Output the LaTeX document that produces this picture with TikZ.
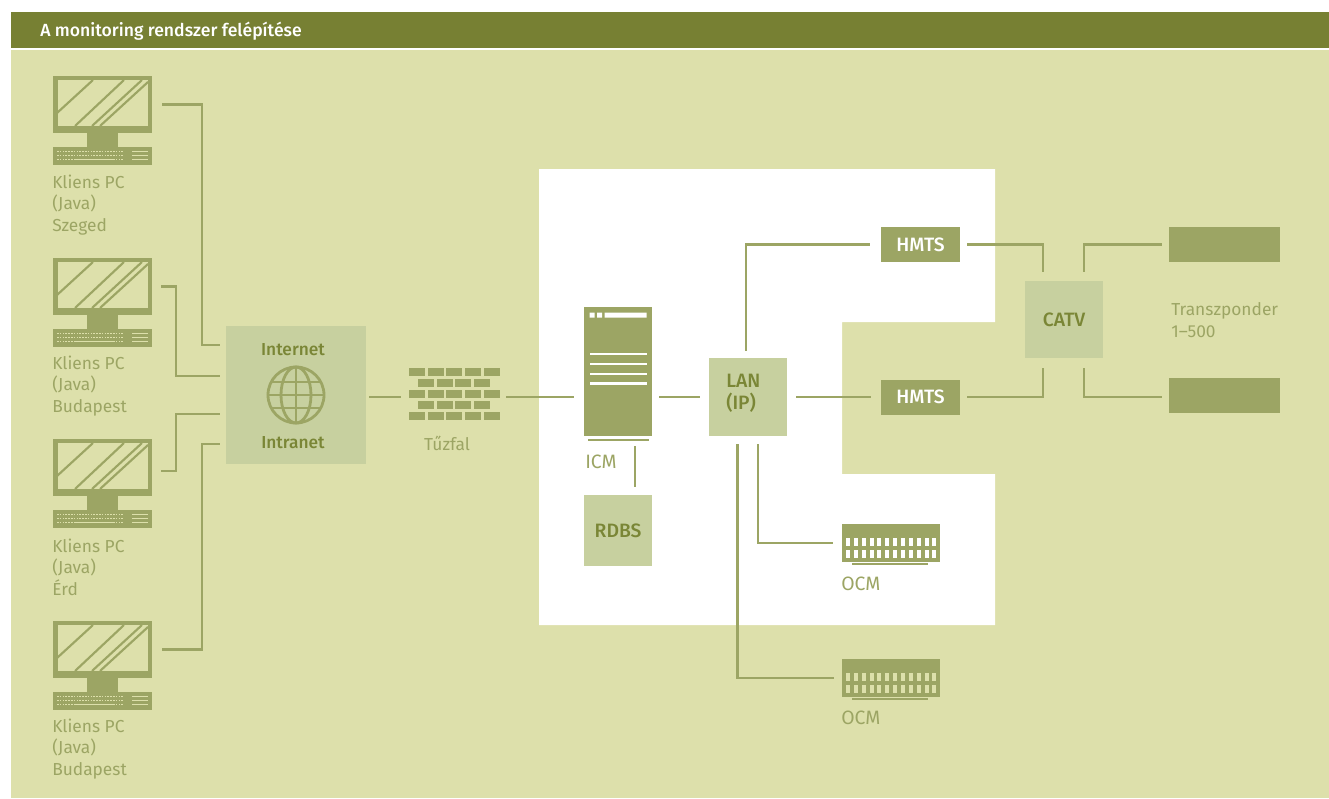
\documentclass[tikz,border=0pt]{standalone}
\usepackage{fontspec}
\setmainfont{Fira Sans}
\newfontfamily\boldface{Fira Sans Medium}
\usepackage{xcolor}
\usetikzlibrary{calc}
\definecolor{barolive}{RGB}{119, 128, 51}
\definecolor{panelolive}{RGB}{221, 224, 171}
\definecolor{lineolive}{RGB}{156, 165, 100}
\definecolor{boxolive}{RGB}{199, 208, 159}
\definecolor{textolive}{RGB}{122, 134, 54}
\tikzset{
    wire/.style={draw=lineolive, line width=2.1pt, line join=miter},
    gaps/.style 2 args={shorten <=#1*0.75pt, shorten >=#2*0.75pt},
    lightbox/.style={rectangle, fill=boxolive, inner sep=0pt, text=textolive, font=\boldface\fontsize{14.5}{17}\selectfont, align=left},
    darkbox/.style={rectangle, fill=lineolive, inner sep=0pt, text=white, font=\boldface\fontsize{14.5}{17}\selectfont},
    thinlabel/.style={anchor=west, inner sep=0pt, text=lineolive, font=\fontsize{13}{16.1}\selectfont, align=left},
    capslabel/.style={thinlabel, font=\fontsize{14.5}{17}\selectfont},
    boldlabel/.style={inner sep=0pt, text=textolive, font=\boldface\fontsize{13}{16}\selectfont},
    brick/.style={fill=lineolive},
    pcicon/.pic={
        \fill[panelolive] (4.5,4) rectangle (95,50);
        \draw[lineolive, line width=1.6pt] (4,37) -- (40,4) (22,50) -- (71,4) (39,50) -- (89,4) (47,50) -- (95,6);
        \fill[lineolive] (34,57) rectangle (65,71);
        \fill[lineolive] (0,71) rectangle (99,89);
        \foreach \y in {75.7,79.7} {
            \draw[panelolive, line width=0.8pt, dash pattern=on 1.2pt off 0.9pt] (4,\y) -- (70,\y);
        }
        \draw[panelolive, line width=0.8pt, dash pattern=on 1.2pt off 0.9pt] (4,83.7) -- (70,83.7);
        \draw[panelolive, line width=0.9pt] (22,83.7) -- (60,83.7);
        \foreach \y in {75.7,79.7,83.7} {
            \draw[panelolive, line width=0.9pt] (79,\y) -- (95,\y);
        }
    },
    ocmicon/.pic={
        \foreach \k in {0,...,11} {
            \fill[#1] (4+\k*7.85,14) rectangle ++(4,8);
            \fill[#1] (4+\k*7.85,26) rectangle ++(4,8);
        }
        \fill[lineolive] (10,39.2) rectangle (86,41);
    }
}

\begin{document}
\begin{tikzpicture}[x=0.75pt, y=-0.75pt]
    \useasboundingbox (0,0) rectangle (1329,799);
    \fill[white] (0,0) rectangle (1329,799);
    \fill[barolive] (11,12) rectangle (1329,48);
    \fill[panelolive] (11,50) rectangle (1329,798);
    \fill[white] (539,169) -- (995,169) -- (995,322) -- (842,322) -- (842,474) -- (995,474) -- (995,625) -- (539,625) -- cycle;
    \node[anchor=west, inner sep=0pt, text=white, font=\boldface\fontsize{13.2}{15}\selectfont] (title) at (40,31) {A monitoring rendszer felépítése};

    \foreach \i/\y/\ly/\city in {1/76/205/Szeged, 2/258/386/Budapest, 3/439/567/Érd, 4/621/749/Budapest} {
        \node[rectangle, fill=lineolive, inner sep=0pt, minimum width=74.25pt, minimum height=42.75pt] (pc\i) at (102.5,\y+28.5) {};
        \pic at (53,\y) {pcicon};
        \node[thinlabel] (pclabel\i) at (52,\ly) {Kliens PC\\(Java)\\\city};
    }

    \node[lightbox, minimum width=105pt, minimum height=103.5pt] (net) at (296,395) {};
    \node[boldlabel] (nettop) at (293,350) {Internet};
    \node[boldlabel] (netbottom) at (293,443) {Intranet};
    \node[circle, draw=lineolive, line width=2.1pt, inner sep=0pt, minimum size=42pt] (globe) at (296,395) {};
    \draw[wire] (globe.north) -- (globe.south) (globe.west) -- (globe.east) (270,382) -- (322,382) (270,408) -- (322,408);
    \draw[wire] (globe) ellipse [x radius=15, y radius=28];

    \node[rectangle, inner sep=0pt, minimum width=68.25pt, minimum height=39pt] (wall) at (454.5,394) {};
    \foreach \y in {368,390,412} {
        \foreach \k in {0,...,4} {
            \fill[brick] (409+\k*18.7,\y) rectangle ++(16,8.3);
        }
    }
    \foreach \y in {379,401} {
        \foreach \k in {0,...,3} {
            \fill[brick] (418+\k*18.7,\y) rectangle ++(16,8.3);
        }
    }
    \node[thinlabel, anchor=center] (walllabel) at (447,443) {Tűzfal};

    \node[darkbox, minimum width=51pt, minimum height=96.75pt] (icm) at (618,371.5) {};
    \fill[white] (589.5,312.5) rectangle ++(5,5) (597,312.5) rectangle ++(5,5) (604.5,312.5) rectangle (646.5,317.5);
    \foreach \y in {354,364,374,383.5} {
        \fill[white] (589.5,\y-1.2) rectangle (646.5,\y+1.2);
    }
    \fill[lineolive] (587.5,438.6) rectangle (649,440.8);
    \node[capslabel] (icmlabel) at (585,462) {ICM};
    \node[lightbox, minimum width=51pt, minimum height=53.25pt] (rdbs) at (618,530.5) {RDBS};

    \node[lightbox, minimum width=58.5pt, minimum height=58.5pt] (lanbox) at (748,397) {};
    \node[anchor=west, inner sep=0pt, text=textolive, font=\boldface\fontsize{14.5}{16.5}\selectfont, align=left] (lantext) at (726,393) {LAN\\(IP)};

    \node[darkbox, minimum width=59.25pt, minimum height=26.25pt] (hmtsa) at (920.5,244.5) {HMTS};
    \node[darkbox, minimum width=59.25pt, minimum height=26.25pt] (hmtsb) at (920.5,397) {HMTS};
    \node[lightbox, minimum width=58.5pt, minimum height=57.75pt] (catv) at (1064,319.5) {CATV};
    \node[darkbox, minimum width=83.25pt, minimum height=26.25pt] (transa) at (1224.5,244.5) {};
    \node[darkbox, minimum width=83.25pt, minimum height=26.25pt] (transb) at (1224.5,395.5) {};
    \node[thinlabel] (translabel) at (1171,320) {Transzponder\\1–500};

    \node[darkbox, minimum width=73.5pt, minimum height=28.5pt] (ocma) at (891,543) {};
    \pic at (842,524) {ocmicon=white};
    \node[capslabel] (ocmlabela) at (841,584) {OCM};
    \node[darkbox, minimum width=73.5pt, minimum height=28.5pt] (ocmb) at (891,678) {};
    \pic at (842,659) {ocmicon=panelolive};
    \node[capslabel] (ocmlabelb) at (841,718) {OCM};

    \draw[wire, gaps={10}{6}] (pc1.east) -| (202,345) -- (net.west |- 202,345);
    \draw[wire, gaps={9}{6}] (pc2.east) -| (176,376) -- (net.west |- 176,376);
    \draw[wire, gaps={9}{6}] ([yshift=-2.6pt]pc3.east) -| (176,414) -- (net.west |- 176,414);
    \draw[wire, gaps={10}{6}] (pc4.east) -| (202,444) -- (net.west |- 202,444);

    \draw[wire, gaps={3}{8}] (net.east |- lanbox) -- (wall.west |- lanbox);
    \draw[wire, gaps={6}{10}] (wall.east |- lanbox) -- (icm.west |- lanbox);
    \draw[wire, gaps={7}{9}] (icm.east |- lanbox) -- (lanbox.west);
    \draw[wire, gaps={10}{8}] ([xshift=12.75pt]icm.south) -- ([xshift=12.75pt]rdbs.north);
    \draw[wire, gaps={7}{11}] ([xshift=-1.5pt]lanbox.north) |- (hmtsa.west);
    \draw[wire, gaps={9}{10}] (lanbox.east) -- (hmtsb.west);
    \draw[wire, gaps={8}{8}] ([xshift=-7.65pt]lanbox.south) |- (ocmb.west);
    \draw[wire, gaps={8}{9}] ([xshift=7.5pt]lanbox.south) |- (ocma.west);

    \draw[wire, gaps={7}{9}] (hmtsa.east) -| ([xshift=-15.75pt]catv.north);
    \draw[wire, gaps={7}{10}] (hmtsb.east) -| ([xshift=-15.75pt]catv.south);
    \draw[wire, gaps={7}{9}] (transa.west) -| ([xshift=15pt]catv.north);
    \draw[wire, gaps={7}{10}] (transb.west |- hmtsb) -| ([xshift=15pt]catv.south);
\end{tikzpicture}
\end{document}
